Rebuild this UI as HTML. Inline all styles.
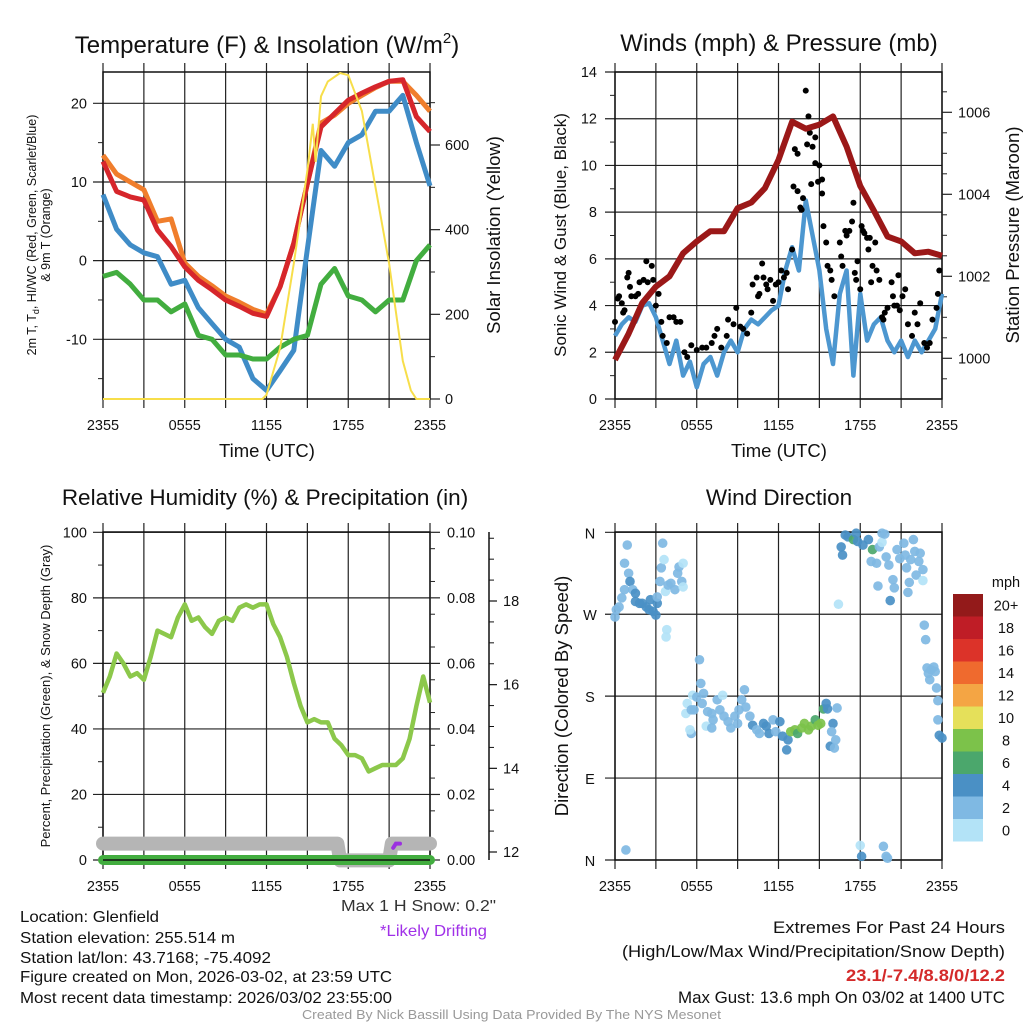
<!DOCTYPE html>
<html><head><meta charset="utf-8"><style>
html,body{margin:0;padding:0;background:#fff}
svg{display:block;font-family:"Liberation Sans",Arial,sans-serif}
</style></head><body>
<svg id="fig" width="1024" height="1024" viewBox="0 0 1024 1024" xmlns="http://www.w3.org/2000/svg">
<rect width="1024" height="1024" fill="#fff"/>
<g id="p1"></g>
<g id="p2"></g>
<g id="p3"></g>
<g id="p4"></g>
<g font-size="16" fill="#111" lengthAdjust="spacingAndGlyphs">
<text x="20" y="922" textLength="139" lengthAdjust="spacingAndGlyphs">Location: Glenfield</text>
<text x="20" y="943" textLength="215" lengthAdjust="spacingAndGlyphs">Station elevation: 255.514 m</text>
<text x="20" y="963" textLength="251" lengthAdjust="spacingAndGlyphs">Station lat/lon: 43.7168; -75.4092</text>
<text x="20" y="982" textLength="372" lengthAdjust="spacingAndGlyphs">Figure created on Mon, 2026-03-02, at 23:59 UTC</text>
<text x="20" y="1003" textLength="372" lengthAdjust="spacingAndGlyphs">Most recent data timestamp: 2026/03/02 23:55:00</text>
</g>
<text x="341" y="911" font-size="16" fill="#333" textLength="155" lengthAdjust="spacingAndGlyphs">Max 1 H Snow: 0.2"</text>
<text x="380" y="936" font-size="16" fill="#a030e8" textLength="107" lengthAdjust="spacingAndGlyphs">*Likely Drifting</text>
<g font-size="17" fill="#111">
<text x="773" y="933" textLength="232" lengthAdjust="spacingAndGlyphs">Extremes For Past 24 Hours</text>
<text x="622" y="957" textLength="383" lengthAdjust="spacingAndGlyphs">(High/Low/Max Wind/Precipitation/Snow Depth)</text>
<text x="846" y="981" fill="#d42a2a" font-weight="bold" textLength="159" lengthAdjust="spacingAndGlyphs">23.1/-7.4/8.8/0/12.2</text>
<text x="678" y="1003" textLength="327" lengthAdjust="spacingAndGlyphs">Max Gust: 13.6 mph On 03/02 at 1400 UTC</text>
</g>
<text x="302" y="1019" font-size="13" fill="#999" textLength="419" lengthAdjust="spacingAndGlyphs">Created By Nick Bassill Using Data Provided By The NYS Mesonet</text>
</svg>
<script>
// ---------- Data ----------
const xTickLabels = ["2355","0555","1155","1755","2355"];
const hours = [0,1,2,3,4,5,6,7,8,9,10,11,12,13,14,15,16,17,18,19,20,21,22,23,24];
const temp2m = [12.6,8.8,8.1,7.7,3.9,1.8,-0.8,-2.5,-3.7,-5.0,-5.8,-6.7,-7.1,-3.3,2.2,9.8,17.0,18.7,20.4,21.3,22.1,22.8,23.0,18.3,16.4];
const temp9m = [13.4,11.0,10.0,9.0,5.0,5.3,-0.3,-2.0,-3.2,-4.5,-5.3,-6.2,-6.8,-3.3,2.2,9.8,17.5,18.5,20.0,21.0,22.0,22.8,22.8,21.0,19.0];
const windChill = [8.4,4.0,2.0,1.0,0.5,-3.0,-2.5,-6.0,-8.0,-10.0,-11.0,-15.0,-16.5,-14.0,-11.4,1.5,14.0,12.0,15.0,16.0,19.0,19.0,21.0,15.0,9.5];
const dewpoint = [-2.0,-1.5,-3.0,-5.0,-5.0,-6.5,-5.5,-9.5,-10.0,-12.0,-12.0,-12.5,-12.5,-11.0,-10.0,-9.5,-3.0,-1.0,-4.5,-5.0,-6.5,-5.0,-5.0,0.0,2.0];
const solarHours = [0,11.7,12,13,14,15,15.4,15.6,16,16.5,17.4,18,19,20,21,22,22.6,23,24];
const solarValues = [0,0,10,120,320,540,650,560,715,750,770,765,680,500,320,90,20,0,0];
const tempTicks = [-10,0,10,20];
const solarTicks = [0,200,400,600];

const halfHours = [0,0.5,1,1.5,2,2.5,3,3.5,4,4.5,5,5.5,6,6.5,7,7.5,8,8.5,9,9.5,10,10.5,11,11.5,12,12.5,13,13.5,14,14.5,15,15.5,16,16.5,17,17.5,18,18.5,19,19.5,20,20.5,21,21.5,22,22.5,23,23.5,24];
const windSpeed = [2.7,3.2,3.5,3.3,4.0,4.1,3.5,2.5,1.5,2.5,1.0,1.6,0.5,1.5,1.8,1.0,2.0,2.5,2.0,3.0,3.4,3.2,3.5,3.8,4.0,5.5,6.5,5.5,8.5,7.0,5.5,3.0,1.5,4.5,5.5,1.0,4.5,2.5,3.2,3.5,2.5,2.0,2.5,1.8,2.5,2.0,2.5,3.0,4.5];
const pressure = [999.96,1000.6,1001.35,1001.75,1002.0,1002.56,1002.85,1003.1,1003.1,1003.66,1003.8,1004.15,1004.84,1005.77,1005.6,1005.7,1005.9,1005.16,1004.2,1003.6,1002.97,1002.85,1002.56,1002.6,1002.5];
const gustHours = [0.0,0.2,0.3,0.5,0.6,0.7,0.9,1.0,1.1,1.2,1.5,1.7,1.8,2.1,2.3,2.4,2.7,2.8,3.0,3.2,3.4,3.5,3.8,4.0,4.3,4.5,4.8,5.1,5.3,5.6,6.0,6.4,6.7,7.1,7.3,7.5,7.8,8.2,8.3,8.7,8.9,9.2,9.4,9.7,10.0,10.1,10.4,10.5,10.6,10.8,10.9,11.1,11.2,11.4,11.6,11.8,12.0,12.2,12.4,12.6,12.7,13.0,13.1,13.2,13.4,13.4,13.6,13.7,13.8,14.0,14.2,14.1,14.3,14.4,14.5,14.7,14.7,14.9,15.0,15.2,15.2,15.3,15.5,15.6,15.8,15.9,16.1,16.5,16.6,16.7,16.9,17.0,17.2,17.4,17.5,17.6,17.7,17.8,18.0,18.1,18.2,18.3,18.5,18.6,18.7,18.8,18.9,19.1,19.2,19.4,19.6,19.7,19.8,20.0,20.3,20.4,20.5,20.7,20.8,20.9,21.1,21.3,21.5,21.8,22.0,22.2,22.4,22.7,22.9,23.1,23.3,23.6,23.7,23.8];
const gustValues = [3.3,4.3,4.4,4.1,3.7,3.8,5.2,5.4,4.8,4.4,4.4,4.5,5.0,5.1,5.9,5.0,5.7,5.1,4.0,4.5,3.3,2.7,2.4,3.5,3.5,3.3,3.3,2.0,1.8,2.3,2.1,2.2,2.2,2.4,2.7,3.0,2.2,2.7,3.4,3.2,3.9,3.1,3.0,2.8,3.7,4.9,5.2,4.4,4.5,5.8,5.2,4.9,4.7,5.1,4.2,4.9,5.0,5.5,5.2,5.4,4.7,6.4,9.1,10.7,10.5,8.9,8.2,8.1,8.6,13.2,12.1,10.9,11.4,9.2,10.8,11.2,10.1,9.3,10.0,9.4,8.8,7.4,6.7,5.7,5.5,5.1,4.4,6.7,6.1,5.7,7.2,7.0,7.2,7.6,8.4,5.4,5.1,5.9,4.7,7.4,7.2,7.1,6.9,6.4,6.9,5.0,5.7,6.7,5.5,5.1,3.5,3.4,3.7,3.9,5.0,4.4,4.0,4.0,5.3,3.8,4.4,4.7,3.2,2.7,3.7,3.2,4.1,2.4,2.2,2.4,3.4,3.9,4.5,5.5];
const windTicks = [0,2,4,6,8,10,12,14];
const pressureTicks = [1000,1002,1004,1006];

const rhValues = [51,56,63,60,56,57,55,62,70,69,68,74,78,73,74,71,69,73,74,73,77,78,77,78,78,72,68,62,54,47,42,43,42,42,37,35,32,32,31,27,28,29,29,29,31,37,47,56,48];
const snowHours = [0,17.2,17.4,21.0,21.2,24];
const snowDepth = [12.2,12.2,11.8,11.8,12.2,12.2];
const driftHours = [21.3,21.5,21.8];
const driftDepth = [12.1,12.2,12.2];
const precipValues = [0,0];
const rhTicks = [0,20,40,60,80,100];
const precipTicks = ["0.00","0.02","0.04","0.06","0.08","0.10"];
const snowTicks = [12,14,16,18];

const dirHours = [0,0.1,0.3,0.5,0.7,0.9,0.7,1.0,1.1,1.3,1.5,1.5,1.8,2.0,2.3,2.5,2.8,3.0,3.1,2.6,3.1,3.3,3.4,3.5,3.6,3.7,3.8,3.75,3.9,4.1,4.4,4.6,4.7,5.0,4.9,5.0,
5.3,5.2,5.6,5.7,5.8,6.0,6.2,6.3,6.4,6.5,6.8,7.1,7.2,7.5,7.7,7.9,8.0,8.3,8.5,8.8,9.0,9.1,9.3,9.5,9.6,9.9,10.1,10.4,10.6,10.9,11.1,11.3,11.6,11.8,12.1,12.3,12.6,12.7,12.9,13.2,13.4,13.7,13.9,14.2,14.4,14.7,14.9,15.1,15.3,15.5,15.6,15.8,16.0,15.9,16.1,16.2,16.3,5.6,5.5,6.7,7.1,
16.4,16.6,16.7,16.9,17.1,17.5,17.7,17.8,18.2,18.6,18.9,18.8,19.2,19.3,19.4,19.6,19.6,19.8,19.9,20.1,20.2,20.4,20.5,20.7,20.9,21.2,21.3,21.4,21.6,21.5,21.7,21.9,22.0,22.1,22.3,22.4,22.6,22.6,
18.0,18.1,19.7,19.9,20.0,0.8,
22.7,22.8,22.9,23.0,23.1,23.2,23.4,23.5,23.6,23.7,23.7,23.8,24.0];
const dirDegrees = [267,275,278,288,297,346,326,315,306,297,293,284,282,282,278,275,273,269,282,286,289,306,321,348,330,295,253,245,302,304,297,315,322,326,306,300,
172,161,165,181,165,179,220,194,172,183,163,161,154,176,165,181,158,152,145,158,150,165,176,187,168,158,148,143,139,150,147,139,154,141,152,136,121,132,141,143,139,145,150,143,147,154,148,150,166,172,166,125,150,141,123,132,167,139,143,147,145,
281,344,335,357,355,352,359,350,346,352,341,328,326,301,344,349,359,358,333,324,285,308,299,341,331,348,335,321,305,294,330,352,339,313,328,337,319,307,
16,4,15,4,2,11,
258,242,211,205,198,209,212,207,189,175,154,137,134];
const dirSpeeds = [3,3,3,3,3,3,3,3,5,3,5,5,5,5,5,5,5,5,5,5,3,3,3,3,1,1,1,1,3,3,3,3,3,1,3,1,
1,1,3,1,3,3,3,3,3,3,3,3,3,3,3,1,3,3,3,3,3,3,3,3,3,3,5,3,3,5,5,5,3,3,5,5,5,5,9,9,7,9,9,9,9,7,9,9,7,5,5,5,5,3,3,3,3,3,1,1,3,
1,5,5,5,5,7,5,5,5,5,7,3,3,3,3,1,3,3,3,3,5,3,3,3,3,3,3,3,3,3,3,3,3,3,3,3,3,1,
1,5,3,3,3,3,
3,3,3,3,3,3,3,3,3,3,3,5,5];
const dirTickLabels = ["N","E","S","W","N"];
const speedBins = ["0","2","4","6","8","10","12","14","16","18","20+"];
const speedColors = ["#b3e3f7","#7fb9e3","#4a90c5","#4ba76c","#7cc24a","#e5e05a","#f4a544","#ef6a2e","#dc3329","#bf1d26","#931a1a"];

// ---------- helpers ----------
const NS="http://www.w3.org/2000/svg";
function el(tag, attrs, parent){const e=document.createElementNS(NS,tag);for(const k in attrs)e.setAttribute(k,attrs[k]);if(parent)parent.appendChild(e);return e;}
function txt(parent,x,y,s,size,anchor,extra){const t=el("text",Object.assign({x:x,y:y,"font-size":size,"text-anchor":anchor||"middle",fill:"#111"},extra||{}),parent);t.textContent=s;return t;}
function lin(d0,d1,r0,r1){return v=>r0+(v-d0)/(d1-d0)*(r1-r0);}
function pathFrom(xs,ys,fx,fy){return xs.map((x,i)=>(i?"L":"M")+fx(x).toFixed(1)+","+fy(ys[i]).toFixed(1)).join("");}
function grid(g,L,R,T,B,fx,fy,yvals){
  for(let h=0;h<=24;h+=3){const x=fx(h);const ln=el("line",{x1:x,x2:x,y1:T-9,y2:B+9,stroke:"#222","stroke-width":1.2},g);
    }
  yvals.forEach(v=>{const y=fy(v);const ln=el("line",{x1:L-10,x2:R,y1:y,y2:y,stroke:"#222","stroke-width":1.2},g);
    });
  el("rect",{x:L,y:T,width:R-L,height:B-T,fill:"none",stroke:"#111","stroke-width":1.5},g);
  xTickLabels.forEach((s,i)=>{const t=txt(g,fx(i*6),B+31,s,14.5);
    });
}

// ---------- Panel 1 ----------
(function(){
  const g=document.getElementById("p1");
  const L=103,R=430,T=72,B=399;
  const fx=lin(0,24,L,R), fy=lin(-10,20,339.3,103.3), fs=lin(0,600,399,145);
  const tt=txt(g,267,53,"",24);tt.innerHTML='Temperature (F) &amp; Insolation (W/m<tspan font-size="15" dy="-10">2</tspan><tspan dy="10">)</tspan>';
  
  grid(g,L,R,T,B,fx,fy,tempTicks);
  tempTicks.forEach(v=>{const t=txt(g,87,fy(v)+5,String(v),14.5,"end");});
  [-15,-5,5,15].forEach(v=>el("line",{x1:L-5,x2:L,y1:fy(v),y2:fy(v),stroke:"#222"},g));
  solarTicks.forEach(v=>{el("line",{x1:R,x2:R+10,y1:fs(v),y2:fs(v),stroke:"#222","stroke-width":1.2},g);
    const t=txt(g,445,fs(v)+5,String(v),14.5,"start");});
  [100,300,500,700].forEach(v=>el("line",{x1:R,x2:R+5,y1:fs(v),y2:fs(v),stroke:"#222"},g));
  const s1=[["#f07e2c",temp9m,"temp-9m-line"],["#d6262b",temp2m,"temp-2m-line"],["#3f8cc7",windChill,"wind-chill-line"],["#42ad3f",dewpoint,"dewpoint-line"]];
  s1.forEach(s=>{const p=el("path",{d:pathFrom(hours,s[1],fx,fy),fill:"none",stroke:s[0],"stroke-width":5,"stroke-linejoin":"round"},g);
    });
  const ps=el("path",{d:pathFrom(solarHours,solarValues,fx,fs),fill:"none",stroke:"#f7de4a","stroke-width":2},g);
  
  const xt=txt(g,267,457,"Time (UTC)",18.5);
  const yt=el("text",{transform:"translate(36,235) rotate(-90)","font-size":12.5,"text-anchor":"middle",fill:"#111"},g);
  yt.innerHTML='2m T, T<tspan font-size="9" dy="3">d</tspan><tspan dy="-3">, HI/WC (Red, Green, Scarlet/Blue)</tspan>';
  
  const yt2=txt(g,0,0,"& 9m T (Orange)",12.5,"middle",{transform:"translate(50,235) rotate(-90)"});
  
  const rt=txt(g,0,0,"Solar Insolation (Yellow)",18.5,"middle",{transform:"translate(500,235) rotate(-90)"});
  
})();

// ---------- Panel 2 ----------
(function(){
  const g=document.getElementById("p2");
  const L=615,R=942,T=72,B=399;
  const fx=lin(0,24,L,R), fy=lin(0,14,399,72), fp=lin(1000,1006,358.3,112.3);
  const tt=txt(g,779,51,"Winds (mph) & Pressure (mb)",24);
  grid(g,L,R,T,B,fx,fy,windTicks);
  windTicks.forEach(v=>{const t=txt(g,597,fy(v)+5,String(v),14.5,"end");});
  [1,3,5,7,9,11,13].forEach(v=>el("line",{x1:L-5,x2:L,y1:fy(v),y2:fy(v),stroke:"#222"},g));
  pressureTicks.forEach(v=>{el("line",{x1:R,x2:R+10,y1:fp(v),y2:fp(v),stroke:"#222","stroke-width":1.2},g);
    const t=txt(g,958,fp(v)+5,String(v),14.5,"start");});
  for(let v=999.5;v<1007;v+=0.5){if(v%2!==0)el("line",{x1:R,x2:R+5,y1:fp(v),y2:fp(v),stroke:"#222"},g);}
  const pw=el("path",{d:pathFrom(halfHours,windSpeed,fx,fy),fill:"none",stroke:"#4d97d0","stroke-width":4.5,"stroke-linejoin":"round"},g);
  
  gustHours.forEach((h,i)=>{const c=el("circle",{cx:fx(h),cy:fy(gustValues[i]),r:3,fill:"#000"},g);
    });
  const pp=el("path",{d:pathFrom(hours,pressure,fx,fp),fill:"none",stroke:"#9b1818","stroke-width":6,"stroke-linejoin":"round"},g);
  
  const xt=txt(g,779,457,"Time (UTC)",18.5);
  const yt=txt(g,0,0,"Sonic Wind & Gust (Blue, Black)",17,"middle",{transform:"translate(566,235) rotate(-90)"});
  
  const rt=txt(g,0,0,"Station Pressure (Maroon)",18.5,"middle",{transform:"translate(1019,235) rotate(-90)"});
  
})();

// ---------- Panel 3 ----------
(function(){
  const g=document.getElementById("p3");
  const L=103,R=430,T=532,B=860;
  const fx=lin(0,24,L,R), fy=lin(0,100,860,532.3), fsn=lin(12,18,852,601);
  const tt=txt(g,265,505,"Relative Humidity (%) & Precipitation (in)",22.5);
  grid(g,L,R,T,B,fx,fy,rhTicks);
  rhTicks.forEach((v,i)=>{const y=fy(v);const t=txt(g,87,y+5,String(v),14.5,"end");
    el("line",{x1:R,x2:R+10,y1:y,y2:y,stroke:"#222","stroke-width":1.2},g);
    const t2=txt(g,447,y+5,precipTicks[i],14.5,"start");});
  [10,30,50,70,90].forEach(v=>el("line",{x1:L-5,x2:L,y1:fy(v),y2:fy(v),stroke:"#222"},g));
  for(let v=5;v<100;v+=5){if(v%10)el("line",{x1:R,x2:R+5,y1:fy(v),y2:fy(v),stroke:"#222"},g);}
  const ax=el("line",{x1:489,x2:489,y1:T,y2:B,stroke:"#111","stroke-width":1.5},g);
  
  snowTicks.forEach(v=>{el("line",{x1:489,x2:497,y1:fsn(v),y2:fsn(v),stroke:"#111","stroke-width":1.2},g);
    const t=txt(g,503,fsn(v)+5,String(v),14.5,"start");});
  for(let v=12.5;v<19.6;v+=0.5){if(v%2)el("line",{x1:489,x2:494,y1:fsn(v),y2:fsn(v),stroke:"#111"},g);}
  const ps=el("path",{d:pathFrom(snowHours,snowDepth,fx,fsn),fill:"none",stroke:"#b5b5b5","stroke-width":14,"stroke-linecap":"round","stroke-linejoin":"round"},g);
  
  const pr=el("path",{d:pathFrom([0,24],precipValues,fx,fy),fill:"none",stroke:"#42ad3f","stroke-width":10,"stroke-linecap":"round"},g);
  
  el("line",{x1:L,x2:R,y1:B,y2:B,stroke:"#111","stroke-width":1.5},g);
  const pd=el("path",{d:pathFrom(driftHours,driftDepth,fx,fsn),fill:"none",stroke:"#9b30e0","stroke-width":4,"stroke-linecap":"round"},g);
  
  const prh=el("path",{d:pathFrom(halfHours,rhValues,fx,fy),fill:"none",stroke:"#8cc84b","stroke-width":4.5,"stroke-linejoin":"round"},g);
  
  const yt=txt(g,0,0,"Percent, Precipitation (Green), & Snow Depth (Gray)",13,"middle",{transform:"translate(50,696) rotate(-90)"});
  
})();

// ---------- Panel 4 ----------
(function(){
  const g=document.getElementById("p4");
  const L=615,R=942,T=532,B=860;
  const fx=lin(0,24,L,R), fy=lin(0,360,860,532.3);
  const tt=txt(g,779,505,"Wind Direction",22.5);
  grid(g,L,R,T,B,fx,fy,[0,90,180,270,360]);
  dirTickLabels.forEach((s,i)=>{const t=txt(g,590,fy(i*90)+6,s,14.5,"middle");});
  dirHours.forEach((h,i)=>{const b=Math.min(10,Math.floor(dirSpeeds[i]/2));
    const c=el("circle",{cx:fx(h),cy:fy(dirDegrees[i]),r:4.8,fill:speedColors[b],"fill-opacity":0.92},g);
    });
  const yt=txt(g,0,0,"Direction (Colored By Speed)",18.5,"middle",{transform:"translate(568,696) rotate(-90)"});
  
  const cb=el("g",{},g);
  const top=594,h=22.5;
  speedBins.forEach((s,i)=>{const y=top+(10-i)*h;
    const r=el("rect",{x:953,y:y,width:30,height:h,fill:speedColors[i]},cb);
    
    const t=txt(cb,1006,y+h/2+5,s,14.5,"middle");});
  const m=txt(cb,1006,587,"mph",14.5,"middle");
})();
</script>
</body></html>
